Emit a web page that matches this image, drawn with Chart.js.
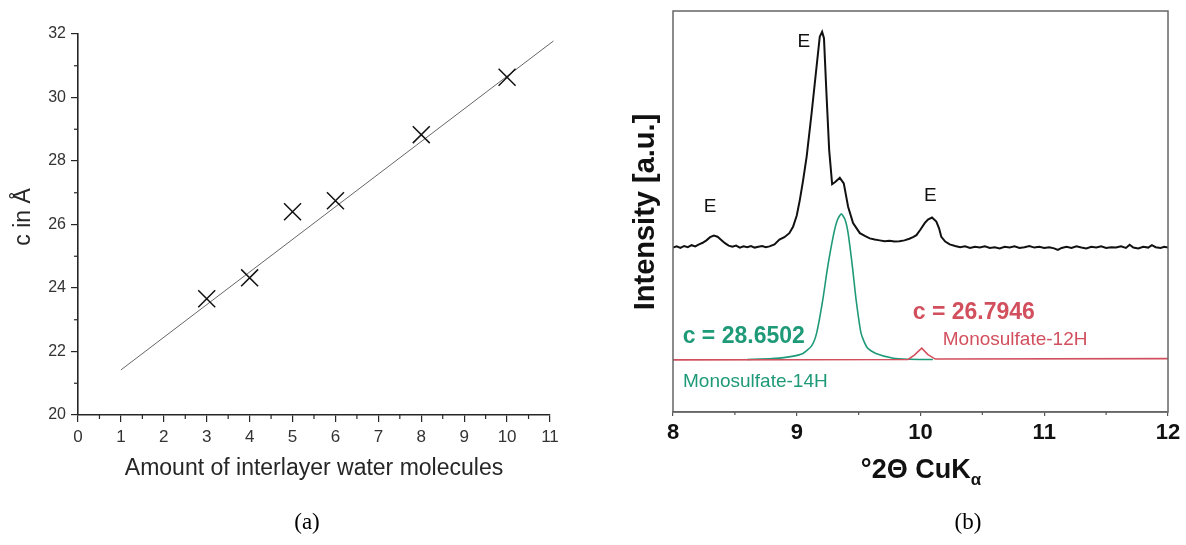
<!DOCTYPE html>
<html lang="en">
<head>
    <meta charset="UTF-8">
    <title>Monosulfate interlayer water</title>
    <script src="https://cdn.jsdelivr.net/npm/chart.js"></script>
    <style>
        body {
            margin: 0;
            padding: 0;
            background: #fff;
            width: 1186px;
            height: 545px;
            position: relative;
            overflow: hidden;
        }
        canvas {
            position: absolute;
            top: 0;
        }
        #chartA { left: 0; }
        #chartB { left: 600px; }
    </style>
</head>
<body>
    <canvas id="chartA" width="600" height="545"></canvas>
    <canvas id="chartB" width="586" height="545"></canvas>

    <script>
        // (a) lattice parameter c vs. water molecules
        const waterMolecules = [3, 4, 5, 6, 8, 10];
        const cValues = [23.66, 24.32, 26.4, 26.75, 28.83, 30.64];
        const fitX = [1, 11.08];
        const fitY = [21.42, 31.78];

        // (b) XRD pattern, measured (black)
        const measTheta = [8.00, 8.03, 8.06, 8.09, 8.12, 8.15, 8.18, 8.21, 8.24, 8.27, 8.30, 8.33, 8.36, 8.39, 8.42, 8.45, 8.48, 8.51, 8.54, 8.57,
            8.60, 8.63, 8.66, 8.69, 8.72, 8.75, 8.78, 8.82, 8.86, 8.90, 8.94, 8.97, 9.00, 9.025, 9.05, 9.08, 9.12, 9.16, 9.186, 9.205,
            9.22, 9.24, 9.262, 9.286, 9.313, 9.348, 9.38, 9.415, 9.455, 9.51, 9.55, 9.59, 9.63, 9.67, 9.71, 9.75, 9.79, 9.83, 9.87, 9.91,
            9.94, 9.967, 10.00, 10.034, 10.06, 10.093, 10.128, 10.15, 10.168, 10.20, 10.236, 10.28, 10.32, 10.36, 10.40, 10.44, 10.48, 10.52, 10.56, 10.60,
            10.64, 10.68, 10.72, 10.76, 10.80, 10.84, 10.88, 10.92, 10.96, 11.00, 11.04, 11.08, 11.11, 11.14, 11.18, 11.22, 11.26, 11.30, 11.34, 11.38,
            11.42, 11.46, 11.50, 11.54, 11.58, 11.62, 11.66, 11.69, 11.72, 11.76, 11.80, 11.84, 11.87, 11.90, 11.94, 11.97, 12.00];
        const measIntensity = [41.0, 41.3, 40.9, 41.4, 41.1, 41.6, 41.3, 41.8, 42.2, 42.8, 43.6, 44.0, 43.7, 42.9, 42.1, 41.5, 41.2, 41.5, 41.0, 41.3,
            41.1, 41.4, 41.0, 41.2, 41.4, 41.1, 41.3, 41.8, 43.0, 43.6, 44.6, 46.2, 49.0, 52.9, 57.5, 63.7, 74.5, 86.1, 93.6, 94.8,
            93.2, 79.5, 65.3, 56.8, 57.4, 58.4, 57.0, 51.2, 47.1, 44.6, 43.9, 43.3, 43.0, 42.8, 42.6, 42.7, 42.5, 42.6, 42.8, 43.2,
            43.6, 44.1, 45.5, 47.1, 48.0, 48.5, 47.5, 45.8, 43.7, 42.5, 41.8, 41.4, 41.1, 41.3, 40.9, 41.2, 41.0, 41.3, 40.9, 41.1,
            40.8, 41.2, 41.0, 41.3, 40.9, 41.1, 41.4, 41.0, 41.2, 40.9, 41.1, 40.8, 40.4, 40.9, 41.2, 40.9, 41.3, 41.0, 40.8, 41.2,
            41.0, 41.3, 40.9, 41.1, 41.0, 41.3, 40.9, 41.7, 41.0, 40.8, 41.2, 41.0, 41.6, 41.1, 40.9, 41.2, 41.0];

        // Monosulfate-14H (green)
        const ms14Theta = [8.6, 8.8, 8.95, 9.05, 9.12, 9.16, 9.21, 9.25, 9.30, 9.33, 9.36, 9.39, 9.415, 9.45, 9.48, 9.52, 9.57, 9.64, 9.78, 9.9, 10.1];
        const ms14Intensity = [13.1, 13.3, 13.8, 14.6, 16.5, 19.6, 27.9, 36.2, 44.6, 48.0, 49.4, 48.0, 44.6, 36.2, 27.9, 19.6, 16.0, 14.6, 13.4, 13.15, 13.1];

        // Monosulfate-12H (red)
        const ms12Theta = [8.0, 9.9, 9.95, 10.01, 10.06, 10.12, 12.0];
        const ms12Intensity = [13.0, 13.1, 14.2, 15.9, 14.3, 13.2, 13.3];

        // labels on panel (b): [text, theta, intensity]
        const peakLabels = [['E', 8.30, 51.2], ['E', 9.057, 92.3], ['E', 10.08, 53.9]];

        const toPoints = (xs, ys) => xs.map((x, i) => ({ x: x, y: ys[i] }));

        const axisColor = '#262626';

        const panelAPlugin = {
            id: 'panelA',
            afterDraw(chart) {
                const ctx = chart.ctx;
                const xs = chart.scales.x;
                const ys = chart.scales.y;
                const area = chart.chartArea;
                ctx.save();
                ctx.strokeStyle = axisColor;
                ctx.lineWidth = 1.2;
                // minor ticks
                for (let v = 21; v < 32; v += 2) {
                    const py = ys.getPixelForValue(v);
                    ctx.beginPath();
                    ctx.moveTo(area.left, py);
                    ctx.lineTo(area.left - 4, py);
                    ctx.stroke();
                }
                for (let v = 0.5; v < 11; v += 1) {
                    const px = xs.getPixelForValue(v);
                    ctx.beginPath();
                    ctx.moveTo(px, area.bottom);
                    ctx.lineTo(px, area.bottom + 4);
                    ctx.stroke();
                }
                ctx.fillStyle = axisColor;
                ctx.textAlign = 'center';
                ctx.textBaseline = 'middle';
                ctx.font = '23px Arial, "Liberation Sans", sans-serif';
                ctx.fillText('Amount of interlayer water molecules', 314, 469);
                ctx.save();
                ctx.translate(24, 217);
                ctx.rotate(-Math.PI / 2);
                ctx.fillText('c in Å', 0, 0);
                ctx.restore();
                ctx.fillStyle = '#000';
                ctx.font = '23px "Liberation Serif", "Times New Roman", serif';
                ctx.fillText('(a)', 307, 523);
                ctx.restore();
            }
        };

        new Chart(document.getElementById('chartA'), {
            type: 'scatter',
            data: {
                datasets: [{
                    data: toPoints(waterMolecules, cValues),
                    pointStyle: 'crossRot',
                    pointRadius: 12,
                    pointHoverRadius: 12,
                    borderColor: '#111',
                    borderWidth: 1.5,
                    showLine: false
                }, {
                    data: toPoints(fitX, fitY),
                    showLine: true,
                    borderColor: '#666',
                    borderWidth: 1,
                    pointRadius: 0,
                    clip: false
                }]
            },
            options: {
                responsive: false,
                animation: false,
                devicePixelRatio: 1,
                layout: { padding: { top: 34, right: 50, left: 0, bottom: 0 } },
                plugins: { legend: { display: false }, tooltip: { enabled: false } },
                scales: {
                    x: {
                        type: 'linear',
                        min: 0,
                        max: 11,
                        afterFit: (s) => { s.height = 130; },
                        ticks: { stepSize: 1, color: '#333', padding: 5, font: { family: 'Arial', size: 17 } },
                        grid: { drawOnChartArea: false, drawTicks: true, tickLength: 7, color: axisColor, lineWidth: 1.2 },
                        border: { display: true, color: axisColor, width: 1.6 }
                    },
                    y: {
                        min: 20,
                        max: 32,
                        afterFit: (s) => { s.width = 78; },
                        ticks: { stepSize: 2, color: '#333', padding: 5, font: { family: 'Arial', size: 16 } },
                        grid: { drawOnChartArea: false, drawTicks: true, tickLength: 7, color: axisColor, lineWidth: 1.2 },
                        border: { display: true, color: axisColor, width: 1.6 }
                    }
                }
            },
            plugins: [panelAPlugin]
        });

        const green = '#1f9a78';
        const red = '#d2505e';

        const panelBPlugin = {
            id: 'panelB',
            afterDraw(chart) {
                const ctx = chart.ctx;
                const xs = chart.scales.x;
                const ys = chart.scales.y;
                const area = chart.chartArea;
                ctx.save();
                // frame
                ctx.strokeStyle = '#666';
                ctx.lineWidth = 1.5;
                ctx.strokeRect(area.left, area.top, area.right - area.left, area.bottom - area.top);
                // minor ticks
                ctx.strokeStyle = '#555';
                ctx.lineWidth = 1.2;
                for (let v = 8.5; v < 12; v += 1) {
                    const px = xs.getPixelForValue(v);
                    ctx.beginPath();
                    ctx.moveTo(px, area.bottom);
                    ctx.lineTo(px, area.bottom + 3);
                    ctx.stroke();
                }
                ctx.textBaseline = 'middle';
                ctx.textAlign = 'center';
                ctx.fillStyle = '#111';
                ctx.font = '19px Arial, "Liberation Sans", sans-serif';
                peakLabels.forEach(([t, x, y]) => {
                    ctx.fillText(t, xs.getPixelForValue(x), ys.getPixelForValue(y));
                });
                ctx.textAlign = 'left';
                ctx.fillStyle = green;
                ctx.font = 'bold 23px Arial, "Liberation Sans", sans-serif';
                ctx.fillText('c = 28.6502', xs.getPixelForValue(8.078), ys.getPixelForValue(18.8));
                ctx.font = '19px Arial, "Liberation Sans", sans-serif';
                ctx.fillText('Monosulfate-14H', xs.getPixelForValue(8.081), ys.getPixelForValue(7.6));
                ctx.fillStyle = red;
                ctx.font = 'bold 23px Arial, "Liberation Sans", sans-serif';
                ctx.fillText('c = 26.7946', xs.getPixelForValue(9.937), ys.getPixelForValue(24.7));
                ctx.font = '19px Arial, "Liberation Sans", sans-serif';
                ctx.fillText('Monosulfate-12H', xs.getPixelForValue(10.18), ys.getPixelForValue(18.0));

                // axis titles
                ctx.fillStyle = '#111';
                ctx.font = 'bold 27px Arial, "Liberation Sans", sans-serif';
                const main = '°2Θ CuK';
                const wMain = ctx.measureText(main).width;
                ctx.font = 'bold 17px Arial, "Liberation Sans", sans-serif';
                const wSub = ctx.measureText('α').width;
                const startX = 321 - (wMain + wSub) / 2;
                ctx.font = 'bold 27px Arial, "Liberation Sans", sans-serif';
                ctx.fillText(main, startX, 471);
                ctx.font = 'bold 17px Arial, "Liberation Sans", sans-serif';
                ctx.fillText('α', startX + wMain, 480);

                ctx.save();
                ctx.translate(46, 212);
                ctx.rotate(-Math.PI / 2);
                ctx.textAlign = 'center';
                ctx.font = 'bold 29px Arial, "Liberation Sans", sans-serif';
                ctx.fillText('Intensity [a.u.]', 0, 0);
                ctx.restore();

                ctx.fillStyle = '#000';
                ctx.textAlign = 'center';
                ctx.font = '23px "Liberation Serif", "Times New Roman", serif';
                ctx.fillText('(b)', 368, 523);
                ctx.restore();
            }
        };

        new Chart(document.getElementById('chartB'), {
            type: 'scatter',
            data: {
                datasets: [{
                    data: toPoints(ms12Theta, ms12Intensity),
                    showLine: true,
                    borderColor: red,
                    borderWidth: 1.6,
                    pointRadius: 0,
                    tension: 0
                }, {
                    data: toPoints(ms14Theta, ms14Intensity),
                    showLine: true,
                    borderColor: green,
                    borderWidth: 1.6,
                    pointRadius: 0,
                    tension: 0.2
                }, {
                    data: toPoints(measTheta, measIntensity),
                    showLine: true,
                    borderColor: '#111',
                    borderWidth: 2,
                    pointRadius: 0,
                    tension: 0
                }]
            },
            options: {
                responsive: false,
                animation: false,
                devicePixelRatio: 1,
                layout: { padding: { top: 11, right: 18, left: 73, bottom: 0 } },
                plugins: { legend: { display: false }, tooltip: { enabled: false } },
                scales: {
                    x: {
                        type: 'linear',
                        min: 8,
                        max: 12,
                        afterFit: (s) => { s.height = 133; },
                        ticks: { stepSize: 1, color: '#111', padding: 4, font: { family: 'Arial', size: 22, weight: 'bold' } },
                        grid: { drawOnChartArea: false, drawTicks: true, tickLength: 4, color: '#555', lineWidth: 1.2 },
                        border: { display: true, color: '#666', width: 1.5 }
                    },
                    y: {
                        display: false,
                        min: 0,
                        max: 100
                    }
                }
            },
            plugins: [panelBPlugin]
        });
    </script>
</body>
</html>
